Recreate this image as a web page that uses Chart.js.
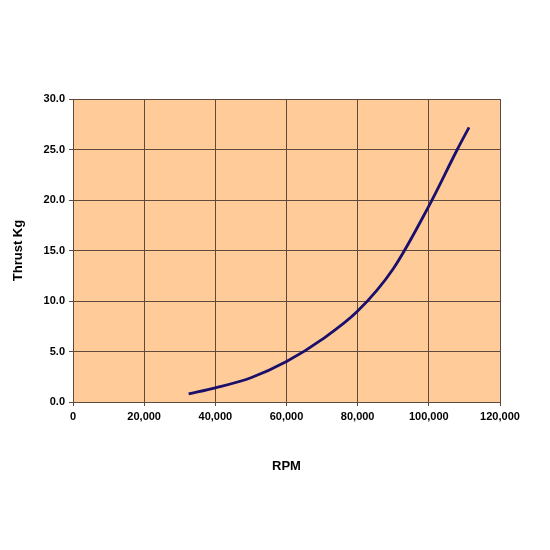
<!DOCTYPE html>
<html>
<head>
<meta charset="utf-8">
<script src="https://cdn.jsdelivr.net/npm/chart.js@4"></script>
<style>
  html, body { margin: 0; padding: 0; background: #fff; }
  #wrap { width: 550px; height: 550px; }
</style>
</head>
<body>
<div id="wrap"><canvas id="chart" width="550" height="550"></canvas></div>
<script>
// RPM vs thrust
const rpm = [32500, 40000, 50000, 60000, 70000, 80000, 90000, 100000, 108000, 111300];
const thrustKg = [0.8, 1.4, 2.4, 4.0, 6.2, 9.0, 13.2, 19.4, 25.0, 27.2];

const xTicks = [0, 20000, 40000, 60000, 80000, 100000, 120000];
const yTicks = [0, 5, 10, 15, 20, 25, 30];

// Peach plot-area background
const plotBg = {
    id: 'plotBg',
    beforeDraw(chart) {
        const { ctx, chartArea: a } = chart;
        ctx.save();
        ctx.fillStyle = '#FFCC99';
        ctx.fillRect(a.left, a.top, a.right - a.left, a.bottom - a.top);
        ctx.restore();
    }
};

const gridColor = '#5e4a3c';
const tickFont = { family: 'Liberation Sans, Arial, sans-serif', size: 11, weight: 'bold' };

new Chart(document.getElementById('chart').getContext('2d'), {
    type: 'scatter',
    data: {
        datasets: [{
            label: 'Thrust Kg',
            data: rpm.map((r, i) => ({ x: r, y: thrustKg[i] })),
            showLine: true,
            borderColor: '#1a0f6b',
            borderWidth: 2.8,
            pointRadius: 0,
            cubicInterpolationMode: 'monotone'
        }]
    },
    options: {
        responsive: false,
        animation: false,
        layout: { padding: { top: 99, right: 50, bottom: 72, left: 0 } },
        plugins: {
            legend: { display: false },
            tooltip: { enabled: false }
        },
        scales: {
            x: {
                type: 'linear',
                min: 0,
                max: 120000,
                afterFit(s) { s.height = 76; },
                afterBuildTicks(s) { s.ticks = xTicks.map(v => ({ value: v })); },
                grid: { color: gridColor, lineWidth: 1, tickLength: 4, tickColor: gridColor },
                border: { color: gridColor, width: 1 },
                ticks: {
                    color: '#000',
                    font: tickFont,
                    padding: 4,
                    maxRotation: 0,
                    callback: v => v.toLocaleString('en-US')
                },
                title: {
                    display: true,
                    text: 'RPM',
                    color: '#000',
                    font: { family: 'Liberation Sans, Arial, sans-serif', size: 13, weight: 'bold' }
                }
            },
            y: {
                min: 0,
                max: 30,
                afterFit(s) { s.width = 73; },
                afterBuildTicks(s) { s.ticks = yTicks.map(v => ({ value: v })); },
                grid: { color: gridColor, lineWidth: 1, tickLength: 4, tickColor: gridColor },
                border: { color: gridColor, width: 1 },
                ticks: {
                    color: '#000',
                    font: tickFont,
                    padding: 4,
                    callback: v => v.toFixed(1)
                },
                title: {
                    display: true,
                    text: 'Thrust Kg',
                    color: '#000',
                    padding: { top: 11, bottom: 4 },
                    font: { family: 'Liberation Sans, Arial, sans-serif', size: 13, weight: 'bold' }
                }
            }
        }
    },
    plugins: [plotBg]
});
</script>
</body>
</html>
